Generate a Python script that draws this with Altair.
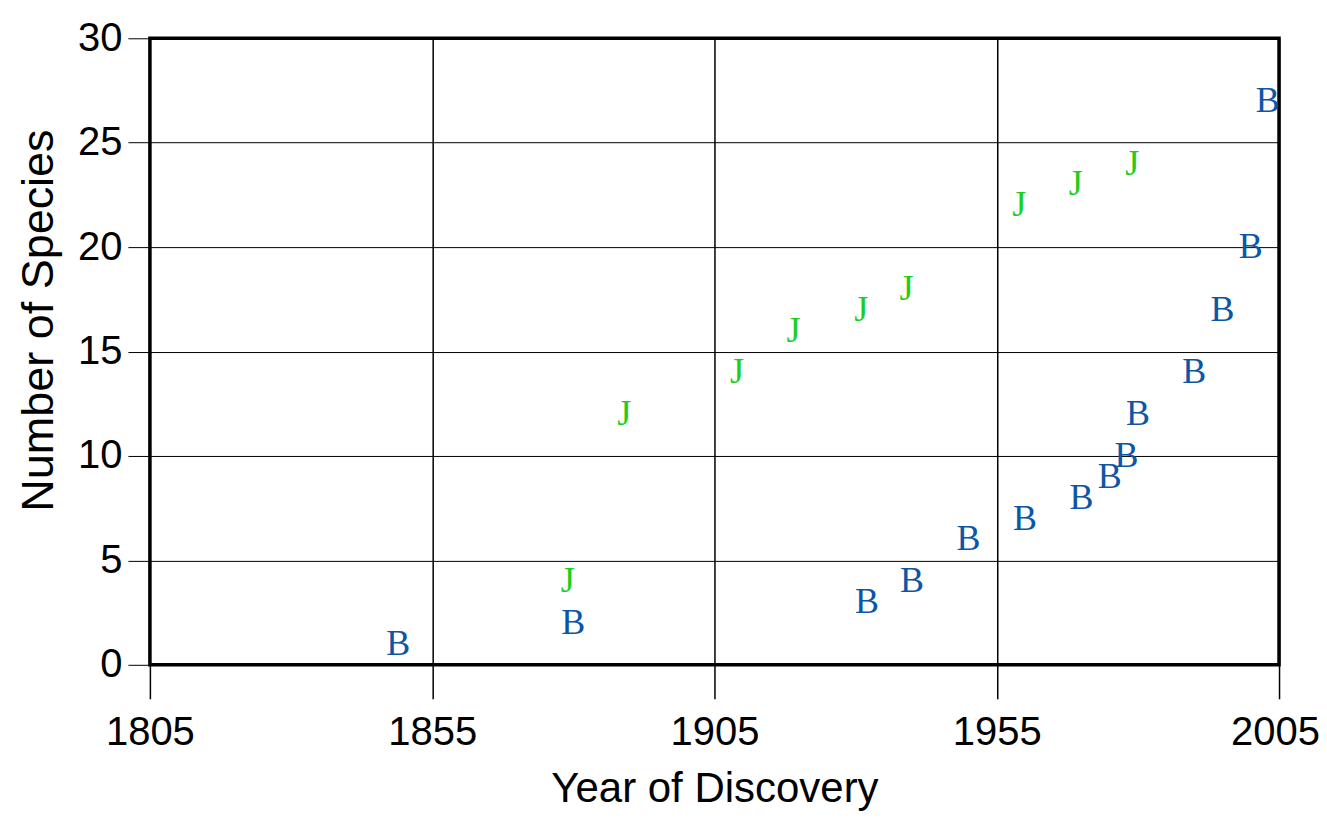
import altair as alt
import pandas as pd

# Data
b_years = [1849, 1880, 1932, 1940, 1950, 1960, 1970, 1975, 1978, 1980, 1990, 1995, 2000, 2003]
b_counts = [1, 2, 3, 4, 6, 7, 8, 9, 10, 12, 14, 17, 20, 27]
j_years = [1879, 1889, 1909, 1919, 1931, 1939, 1959, 1969, 1979]
j_counts = [4, 12, 14, 16, 17, 18, 22, 23, 24]

x_ticks = [1805, 1855, 1905, 1955, 2005]
y_ticks = [0, 5, 10, 15, 20, 25, 30]

df = pd.DataFrame({
    "year": b_years + j_years,
    "count": b_counts + j_counts,
    "letter": ["B"] * len(b_years) + ["J"] * len(j_years),
})

x_enc = alt.X(
    "year:Q",
    scale=alt.Scale(domain=[1805, 2005], nice=False, zero=False),
    axis=alt.Axis(
        values=x_ticks, format="d", title="Year of Discovery",
        grid=True, gridColor="#000000", gridWidth=1.5, gridOpacity=1,
        domain=False, ticks=True, tickSize=34, tickColor="#000000", tickWidth=1.5,
        labelFont="Liberation Sans", labelFontSize=40, labelColor="#000000",
        labelPadding=14, labelFlush=False,
        labelOffset={"condition": {"test": "datum.value == 2005", "value": -4}, "value": 0},
        titleFont="Liberation Sans", titleFontSize=42, titleFontWeight="normal",
        titleColor="#000000", titleBaseline="alphabetic", titleY=137,
    ),
)
y_enc = alt.Y(
    "count:Q",
    scale=alt.Scale(domain=[0, 30], nice=False),
    axis=alt.Axis(
        values=y_ticks, title="Number of Species",
        grid=True, gridColor="#000000", gridWidth=1, gridOpacity=1,
        domain=False, ticks=True, tickSize=22, tickColor="#000000", tickWidth=1,
        labelFont="Liberation Sans", labelFontSize=40, labelColor="#000000",
        labelPadding=6, labelFlush=False,
        titleFont="Liberation Sans", titleFontSize=45, titleFontWeight="normal",
        titleColor="#000000", titleBaseline="alphabetic", titleAngle=-90,
        titleX=-97, titleY=282, titleAlign="center",
    ),
)

chart = alt.Chart(df).mark_text(
    font="Liberation Serif", fontSize=36, align="center", baseline="middle"
).encode(
    x=x_enc,
    y=y_enc,
    text="letter:N",
    color=alt.Color(
        "letter:N",
        scale=alt.Scale(domain=["B", "J"], range=["#0D56A6", "#1DCF1D"]),
        legend=None,
    ),
).properties(
    width=1130,
    height=627,
    autosize=alt.AutoSizeParams(type="none"),
    padding={"left": 142, "top": 30, "right": 40, "bottom": 147},
    background="#ffffff",
).configure_view(
    stroke="#000000", strokeWidth=3.5
)

chart.save("out.html", embed_options={"renderer": "svg", "actions": False})
